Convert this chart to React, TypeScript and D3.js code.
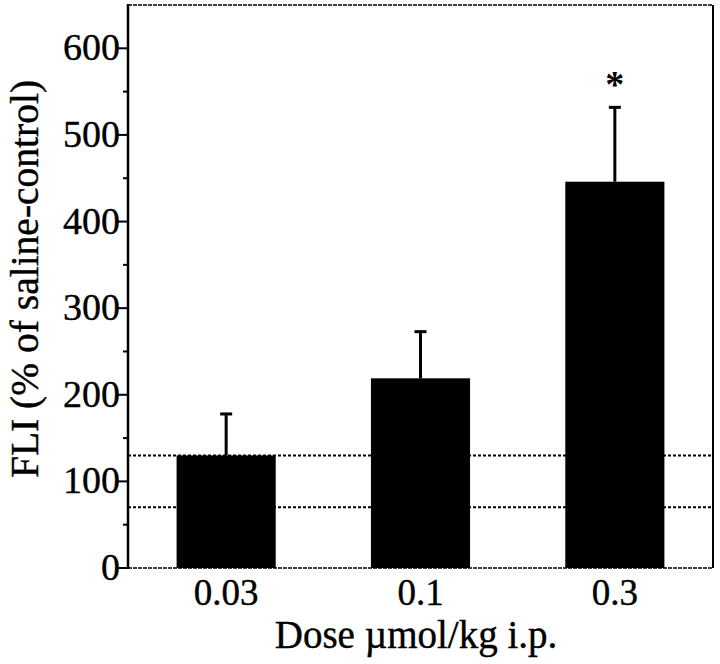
import React from "react";
import * as d3 from "d3";

const categories = ["0.03", "0.1", "0.3"];
const means = [130, 219, 446];
const errorTops = [179, 274, 533];
const significant = [false, false, true];
const refLines = [70, 130];
const majorTicks = [0, 100, 200, 300, 400, 500, 600];
const minorTicks = [50, 150, 250, 350, 450, 550];

const W = 720;
const H = 664;
const margin = { left: 128, right: 7, top: 5, bottom: 96 };
const FONT = "'Liberation Serif', 'Times New Roman', serif";

export default function App() {
  const x = d3
    .scaleBand<string>()
    .domain(categories)
    .range([margin.left, W - margin.right])
    .paddingInner(0.49)
    .paddingOuter(0.25);
  const y = d3.scaleLinear().domain([0, 650]).range([H - margin.bottom, margin.top]);
  const x0 = margin.left;
  const x1 = W - margin.right;
  const y0 = y(0);
  const yTop = margin.top;
  const textStyle = { stroke: "#000", strokeWidth: 0.4 };

  return (
    <svg
      width={W}
      height={H}
      style={{ position: "absolute", left: 0, top: 0, background: "#fff" }}
      fontFamily={FONT}
    >
      {/* reference dashed lines */}
      {refLines.map((v) => (
        <line
          key={v}
          x1={x0}
          x2={x1}
          y1={y(v)}
          y2={y(v)}
          stroke="#000"
          strokeWidth={2}
          strokeDasharray="3,2"
        />
      ))}
      {/* bars */}
      {categories.map((c, i) => (
        <rect
          key={c}
          x={x(c)}
          y={y(means[i])}
          width={x.bandwidth()}
          height={y0 - y(means[i])}
          fill="#000"
        />
      ))}
      {/* error bars */}
      {categories.map((c, i) => {
        const cx = (x(c) as number) + x.bandwidth() / 2;
        return (
          <g key={"e" + c}>
            <line x1={cx} x2={cx} y1={y(means[i])} y2={y(errorTops[i])} stroke="#000" strokeWidth={3} />
            <line x1={cx - 6} x2={cx + 6} y1={y(errorTops[i]) + 1} y2={y(errorTops[i]) + 1} stroke="#000" strokeWidth={3} />
            {significant[i] && (
              <text x={cx} y={y(errorTops[i]) - 9} textAnchor="middle" fontSize={38} fontWeight="bold" fill="#000">
                *
              </text>
            )}
          </g>
        );
      })}
      {/* frame */}
      <line x1={x0} x2={x1} y1={yTop} y2={yTop} stroke="#000" strokeWidth={1.5} strokeDasharray="4,1" />
      <line x1={x0} x2={x1} y1={y0} y2={y0} stroke="#000" strokeWidth={1.5} strokeDasharray="4,1" />
      <line x1={x1} x2={x1} y1={yTop} y2={y0} stroke="#000" strokeWidth={2} />
      <line x1={x0} x2={x0} y1={yTop - 1} y2={y0 + 1} stroke="#000" strokeWidth={2.5} />
      {/* y ticks */}
      {majorTicks.map((t) => (
        <g key={"t" + t}>
          <line x1={x0 - 10} x2={x0} y1={y(t)} y2={y(t)} stroke="#000" strokeWidth={2} />
          <text x={x0 - 8} y={y(t) + 12} textAnchor="end" fontSize={38} fill="#000" style={textStyle}>
            {t}
          </text>
        </g>
      ))}
      {minorTicks.map((t) => (
        <line key={"m" + t} x1={x0 - 5} x2={x0} y1={y(t)} y2={y(t)} stroke="#000" strokeWidth={2} />
      ))}
      {/* x labels */}
      {categories.map((c) => (
        <text
          key={"x" + c}
          x={(x(c) as number) + x.bandwidth() / 2}
          y={605}
          textAnchor="middle"
          fontSize={37}
          fill="#000"
          style={textStyle}
        >
          {c}
        </text>
      ))}
      <text x={416} y={648} textAnchor="middle" fontSize={39} fill="#000" style={textStyle}>
        Dose µmol/kg i.p.
      </text>
      <text
        transform={`translate(38,279) rotate(-90)`}
        textAnchor="middle"
        fontSize={39.5}
        fill="#000"
        style={textStyle}
      >
        FLI (% of saline-control)
      </text>
    </svg>
  );
}
